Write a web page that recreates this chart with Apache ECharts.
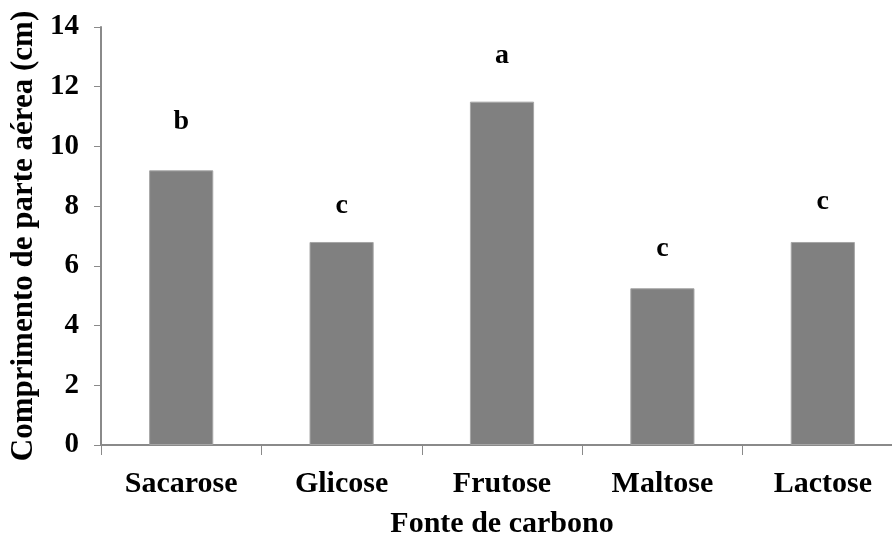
<!DOCTYPE html>
<html>
<head>
<meta charset="utf-8">
<script src="https://cdn.jsdelivr.net/npm/echarts@6/dist/echarts.min.js"></script>
<style>html,body{margin:0;padding:0;background:#fff}#c{width:892px;height:536px}</style>
</head>
<body>
<div id="c"></div>
<script>
const categories = ['Sacarose', 'Glicose', 'Frutose', 'Maltose', 'Lactose'];
const values = [9.2, 6.8, 11.5, 5.25, 6.8];
const letters = ['b', 'c', 'a', 'c', 'c'];
const yTicks = { min: 0, max: 14, interval: 2 };

// label gaps (px) above each bar, styling only
const letterGap = [35, 22, 32, 25, 26];

const FONT = '"Liberation Serif", "Times New Roman", serif';
const axisColor = '#8a8a8a';

const chart = echarts.init(document.getElementById('c'), null, { renderer: 'canvas' });
chart.setOption({
  animation: false,
  backgroundColor: '#fff',
  grid: { left: 101, right: -11, top: 27, bottom: 91, containLabel: false, outerBoundsMode: 'none' },
  xAxis: {
    type: 'category',
    data: categories,
    boundaryGap: true,
    axisLine: { lineStyle: { color: axisColor, width: 2 } },
    axisTick: { show: true, alignWithLabel: false, length: 10, lineStyle: { color: axisColor, width: 1 } },
    axisLabel: { color: '#000', fontFamily: FONT, fontWeight: 'bold', fontSize: 30, margin: 24 },
    name: 'Fonte de carbono',
    nameLocation: 'middle',
    nameGap: 64,
    nameTextStyle: { color: '#000', fontFamily: FONT, fontWeight: 'bold', fontSize: 30 }
  },
  yAxis: {
    type: 'value',
    min: yTicks.min, max: yTicks.max, interval: yTicks.interval,
    splitLine: { show: false },
    axisLine: { show: true, lineStyle: { color: axisColor, width: 2 } },
    axisTick: { show: true, length: 7, lineStyle: { color: axisColor, width: 1 } },
    axisLabel: { color: '#000', fontFamily: FONT, fontWeight: 'bold', fontSize: 29, margin: 22 },
    name: 'Comprimento de parte aérea (cm)',
    nameLocation: 'middle',
    nameGap: 51,
    nameRotate: 90,
    nameTextStyle: { color: '#000', fontFamily: FONT, fontWeight: 'bold', fontSize: 31 }
  },
  series: [{
    type: 'bar',
    barWidth: '40%',
    data: values.map((v, i) => ({
      value: v,
      label: {
        show: true, position: 'top', distance: letterGap[i],
        formatter: letters[i],
        color: '#000', fontFamily: FONT, fontWeight: 'bold', fontSize: 28
      }
    })),
    itemStyle: { color: '#808080', borderColor: '#a6a6a6', borderWidth: 1 }
  }]
});
</script>
</body>
</html>
